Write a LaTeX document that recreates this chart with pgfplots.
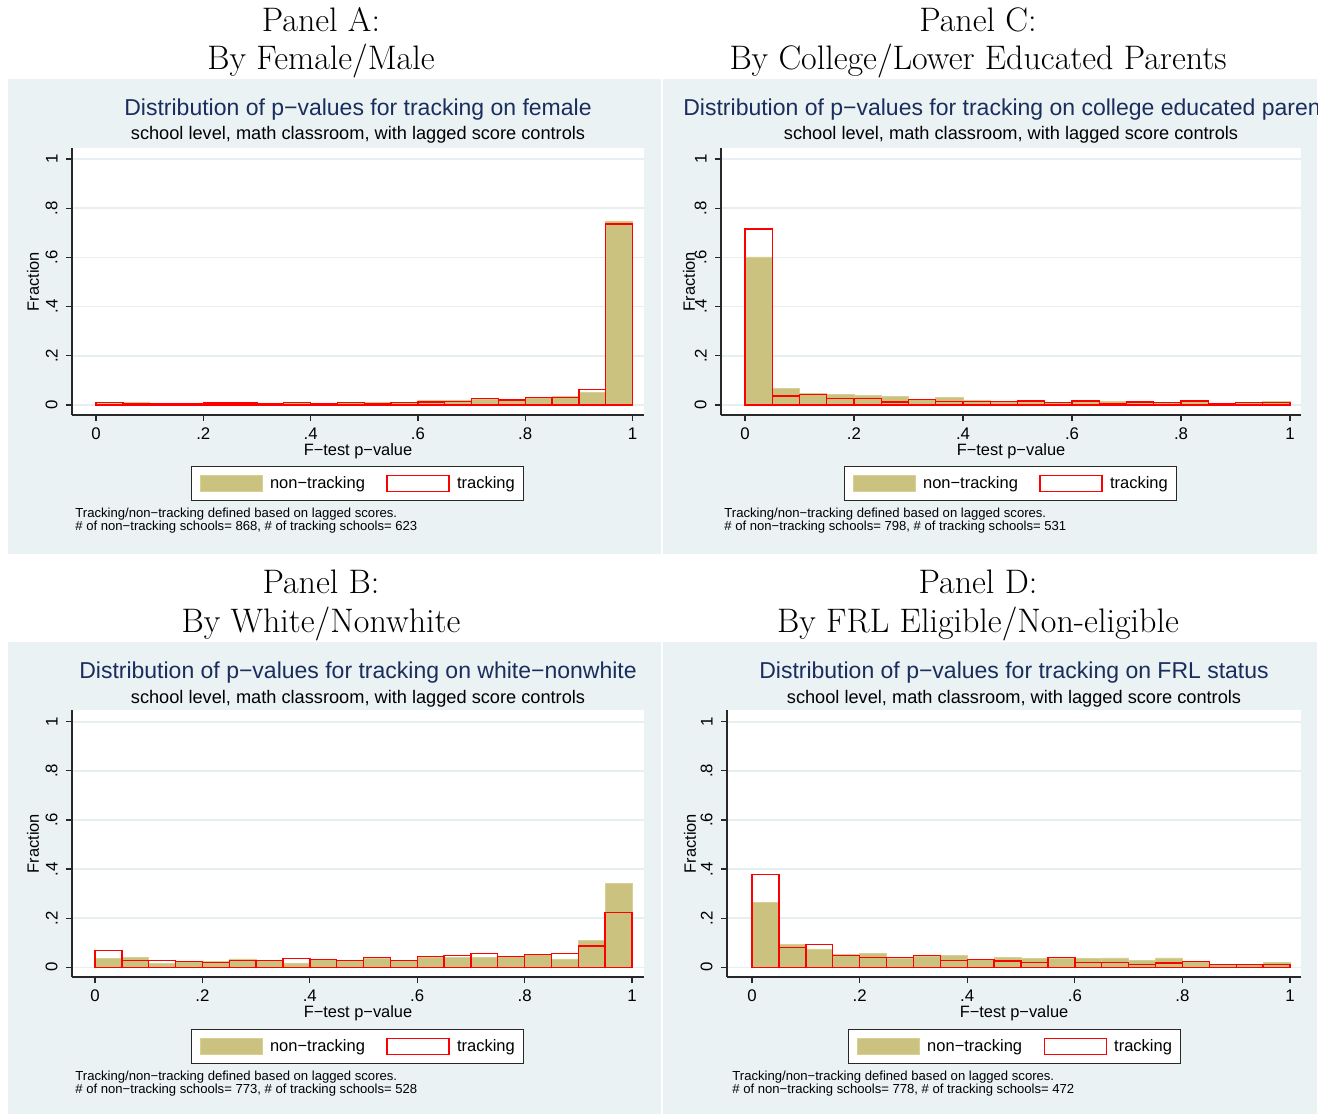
\documentclass[border=0pt]{standalone}
\usepackage{fontspec}
\usepackage{pgfplots}
\pgfplotsset{compat=1.18}
\newfontfamily\arial{Liberation Sans}
\definecolor{bgc}{RGB}{234,242,243}
\definecolor{khaki}{RGB}{202,194,126}
\definecolor{khakiedge}{RGB}{214,207,150}
\definecolor{navy}{RGB}{26,46,94}
\definecolor{axc}{RGB}{40,40,40}
\definecolor{gridc}{RGB}{230,239,241}
\definecolor{sred}{RGB}{255,0,0}

\pgfplotsset{
 stata/.style={
  scale only axis, height=133.5pt,
  anchor=south west,
  axis x line*=bottom, axis y line*=left,
  axis line style={axc, line width=0.6pt, -},
  axis background/.style={fill=white},
  tick align=outside, major tick length=3pt,
  every tick/.style={axc, line width=0.6pt},
  ytick={0,0.2,0.4,0.6,0.8,1}, yticklabels={0,.2,.4,.6,.8,1},
  xtick={0,0.2,0.4,0.6,0.8,1}, xticklabels={0,.2,.4,.6,.8,1},
  ymajorgrids, grid style={gridc, line width=0.8pt},
  tick label style={font=\arial\fontsize{8.4}{10}\selectfont, text=black},
  yticklabel style={rotate=90, anchor=south, inner ysep=4pt},
  label style={font=\arial\fontsize{8.2}{10}\selectfont},
  xlabel={F−test p−value}, ylabel={Fraction},
  xlabel style={at={(axis description cs:0.5,-0.135)}, anchor=center},
  legend columns=2,
  legend cell align=left,
  legend style={draw=axc, line width=0.5pt, fill=white, anchor=north,
    font=\arial\fontsize{8.25}{10}\selectfont,
    inner xsep=2.5pt, inner ysep=2.75pt,
    /tikz/every even column/.append style={column sep=7pt}},
 },
 nontr/.style={ybar interval, fill=khaki, draw=khakiedge, line width=0.4pt, forget plot},
 tr/.style={ybar interval, fill=none, draw=sred, line width=0.7pt, forget plot},
}
\newcommand{\legimgs}{%
  \addlegendimage{legend image code/.code={\path[draw=none,fill=none] (0pt,0pt) -- (35pt,0pt);\draw[fill=khaki,draw=khakiedge,line width=0.4pt] (2pt,-4pt) rectangle (33pt,4pt);}}
  \addlegendentry{non−tracking}
  \addlegendimage{legend image code/.code={\path[draw=none,fill=none] (0pt,0pt) -- (35pt,0pt);\draw[fill=white,draw=sred,line width=0.6pt] (2pt,-4pt) rectangle (33pt,4pt);}}
  \addlegendentry{tracking}}

\begin{document}
\begin{tikzpicture}
\begin{scope}[x=0.5pt,y=-0.5pt]
  \useasboundingbox (0,0) rectangle (1325,1115);
  \fill[white] (0,0) rectangle (1325,1115);
  \fill[bgc] (8,79) rectangle (661,554);
  \fill[bgc] (663,79) rectangle (1317,554);
  \fill[bgc] (8,642) rectangle (661,1114);
  \fill[bgc] (663,642) rectangle (1317,1114);
  % panel titles
  \node[font=\fontsize{17}{20}\selectfont, anchor=base] at (321,31) {Panel A:};
  \node[font=\fontsize{17}{20}\selectfont, anchor=base] at (321,69) {By Female/Male};
  \node[font=\fontsize{17}{20}\selectfont, anchor=base] at (978,31) {Panel C:};
  \node[font=\fontsize{17}{20}\selectfont, anchor=base] at (978,69) {By College/Lower Educated Parents};
  \node[font=\fontsize{17}{20}\selectfont, anchor=base] at (321,593) {Panel B:};
  \node[font=\fontsize{17}{20}\selectfont, anchor=base] at (321,632) {By White/Nonwhite};
  \node[font=\fontsize{17}{20}\selectfont, anchor=base] at (978,593) {Panel D:};
  \node[font=\fontsize{17}{20}\selectfont, anchor=base] at (978,632) {By FRL Eligible/Non-eligible};
  % stata titles
  \node[font=\arial\fontsize{11.5}{13}\selectfont, text=navy, anchor=base] at (358,115) {Distribution of p−values for tracking on female};
  \node[font=\arial\fontsize{9.1}{11}\selectfont, anchor=base] at (358,139) {school level, math classroom, with lagged score controls};
  \begin{scope}
    \clip (663,79) rectangle (1317,554);
    \node[font=\arial\fontsize{11.5}{13}\selectfont, text=navy, anchor=base] at (1011,115) {Distribution of p−values for tracking on college educated parents};
  \end{scope}
  \node[font=\arial\fontsize{9.1}{11}\selectfont, anchor=base] at (1011,139) {school level, math classroom, with lagged score controls};
  \node[font=\arial\fontsize{11.5}{13}\selectfont, text=navy, anchor=base] at (358,678) {Distribution of p−values for tracking on white−nonwhite};
  \node[font=\arial\fontsize{9.1}{11}\selectfont, anchor=base] at (358,703) {school level, math classroom, with lagged score controls};
  \node[font=\arial\fontsize{11.5}{13}\selectfont, text=navy, anchor=base] at (1014,678) {Distribution of p−values for tracking on FRL status};
  \node[font=\arial\fontsize{9.1}{11}\selectfont, anchor=base] at (1014,703) {school level, math classroom, with lagged score controls};
  % notes
  \node[font=\arial\fontsize{6.55}{8}\selectfont, anchor=base west, inner sep=0pt] at (75,517.5) {Tracking/non−tracking defined based on lagged scores.};
  \node[font=\arial\fontsize{6.55}{8}\selectfont, anchor=base west, inner sep=0pt] at (75,530.5) {\# of non−tracking schools= 868, \# of tracking schools= 623};
  \node[font=\arial\fontsize{6.55}{8}\selectfont, anchor=base west, inner sep=0pt] at (724,517.5) {Tracking/non−tracking defined based on lagged scores.};
  \node[font=\arial\fontsize{6.55}{8}\selectfont, anchor=base west, inner sep=0pt] at (724,530.5) {\# of non−tracking schools= 798, \# of tracking schools= 531};
  \node[font=\arial\fontsize{6.55}{8}\selectfont, anchor=base west, inner sep=0pt] at (75,1080) {Tracking/non−tracking defined based on lagged scores.};
  \node[font=\arial\fontsize{6.55}{8}\selectfont, anchor=base west, inner sep=0pt] at (75,1093) {\# of non−tracking schools= 773, \# of tracking schools= 528};
  \node[font=\arial\fontsize{6.55}{8}\selectfont, anchor=base west, inner sep=0pt] at (732,1080) {Tracking/non−tracking defined based on lagged scores.};
  \node[font=\arial\fontsize{6.55}{8}\selectfont, anchor=base west, inner sep=0pt] at (732,1093) {\# of non−tracking schools= 778, \# of tracking schools= 472};
  \coordinate (pA) at (72,415);
  \coordinate (pC) at (721,415);
  \coordinate (pB) at (72,977);
  \coordinate (pD) at (727,977);
\end{scope}

% Panel A
\begin{axis}[stata, at={(pA)}, width=286pt,
  xmin=-0.0447, xmax=1.0214, ymin=-0.0407, ymax=1.0447,
  ylabel style={at={(axis description cs:-0.068,0.5)}, anchor=center},
  legend style={at={(axis description cs:0.499,-0.192)}}]
\addplot[nontr] coordinates {(0,0.008) (0.05,0.011) (0.1,0.004) (0.15,0.005) (0.2,0.009) (0.25,0.009) (0.3,0.005) (0.35,0.011) (0.4,0.005) (0.45,0.011) (0.5,0.009) (0.55,0.009) (0.6,0.019) (0.65,0.020) (0.7,0.023) (0.75,0.018) (0.8,0.031) (0.85,0.034) (0.9,0.050) (0.95,0.748) (1,0)};
\addplot[tr] coordinates {(0,0.011) (0.05,0.004) (0.1,0.004) (0.15,0.005) (0.2,0.008) (0.25,0.008) (0.3,0.005) (0.35,0.011) (0.4,0.004) (0.45,0.011) (0.5,0.007) (0.55,0.009) (0.6,0.012) (0.65,0.015) (0.7,0.026) (0.75,0.020) (0.8,0.031) (0.85,0.031) (0.9,0.064) (0.95,0.735) (1,0)};
\legimgs
\end{axis}

% Panel C
\begin{axis}[stata, at={(pC)}, width=290pt,
  xmin=-0.044, xmax=1.0202, ymin=-0.0407, ymax=1.0447,
  ylabel style={at={(axis description cs:-0.055,0.5)}, anchor=center},
  legend style={at={(axis description cs:0.499,-0.192)}}]
\addplot[nontr] coordinates {(0,0.602) (0.05,0.066) (0.1,0.047) (0.15,0.043) (0.2,0.038) (0.25,0.033) (0.3,0.022) (0.35,0.030) (0.4,0.020) (0.45,0.015) (0.5,0.014) (0.55,0.011) (0.6,0.015) (0.65,0.015) (0.7,0.012) (0.75,0.011) (0.8,0.015) (0.85,0.007) (0.9,0.011) (0.95,0.015) (1,0)};
\addplot[tr] coordinates {(0,0.715) (0.05,0.037) (0.1,0.042) (0.15,0.026) (0.2,0.027) (0.25,0.012) (0.3,0.023) (0.35,0.014) (0.4,0.014) (0.45,0.014) (0.5,0.016) (0.55,0.011) (0.6,0.016) (0.65,0.007) (0.7,0.012) (0.75,0.011) (0.8,0.016) (0.85,0.007) (0.9,0.009) (0.95,0.009) (1,0)};
\legimgs
\end{axis}

% Panel B
\begin{axis}[stata, at={(pB)}, width=286pt,
  xmin=-0.0428, xmax=1.0223, ymin=-0.0395, ymax=1.0476,
  ylabel style={at={(axis description cs:-0.068,0.5)}, anchor=center},
  legend style={at={(axis description cs:0.499,-0.196)}}]
\addplot[nontr] coordinates {(0,0.035) (0.05,0.041) (0.1,0.016) (0.15,0.023) (0.2,0.024) (0.25,0.034) (0.3,0.028) (0.35,0.018) (0.4,0.033) (0.45,0.027) (0.5,0.037) (0.55,0.028) (0.6,0.041) (0.65,0.041) (0.7,0.039) (0.75,0.045) (0.8,0.053) (0.85,0.034) (0.9,0.111) (0.95,0.342) (1,0)};
\addplot[tr] coordinates {(0,0.068) (0.05,0.027) (0.1,0.028) (0.15,0.023) (0.2,0.020) (0.25,0.027) (0.3,0.028) (0.35,0.037) (0.4,0.033) (0.45,0.028) (0.5,0.039) (0.55,0.028) (0.6,0.043) (0.65,0.049) (0.7,0.056) (0.75,0.045) (0.8,0.053) (0.85,0.056) (0.9,0.087) (0.95,0.222) (1,0)};
\legimgs
\end{axis}

% Panel D
\begin{axis}[stata, at={(pD)}, width=287pt,
  xmin=-0.0465, xmax=1.0204, ymin=-0.0395, ymax=1.0476,
  ylabel style={at={(axis description cs:-0.0645,0.5)}, anchor=center},
  legend style={at={(axis description cs:0.501,-0.196)}}]
\addplot[nontr] coordinates {(0,0.265) (0.05,0.094) (0.1,0.075) (0.15,0.052) (0.2,0.058) (0.25,0.038) (0.3,0.045) (0.35,0.049) (0.4,0.031) (0.45,0.041) (0.5,0.037) (0.55,0.038) (0.6,0.037) (0.65,0.038) (0.7,0.027) (0.75,0.038) (0.8,0.023) (0.85,0.012) (0.9,0.011) (0.95,0.020) (1,0)};
\addplot[tr] coordinates {(0,0.377) (0.05,0.080) (0.1,0.094) (0.15,0.047) (0.2,0.041) (0.25,0.039) (0.3,0.047) (0.35,0.028) (0.4,0.031) (0.45,0.026) (0.5,0.020) (0.55,0.039) (0.6,0.020) (0.65,0.019) (0.7,0.011) (0.75,0.018) (0.8,0.023) (0.85,0.011) (0.9,0.012) (0.95,0.012) (1,0)};
\legimgs
\end{axis}
\end{tikzpicture}
\end{document}
